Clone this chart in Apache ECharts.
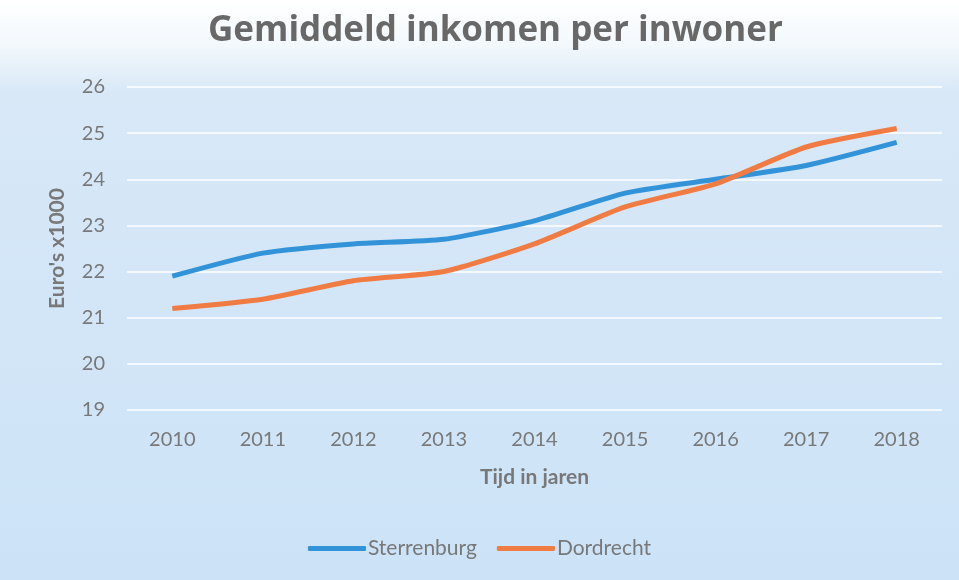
<!DOCTYPE html>
<html>
<head>
<meta charset="utf-8">
<script src="https://cdn.jsdelivr.net/npm/echarts@6/dist/echarts.min.js"></script>
<style>html,body{margin:0;padding:0;}#c{width:959px;height:580px;}</style>
</head>
<body>
<div id="c"></div>
<script>
var years = ['2010','2011','2012','2013','2014','2015','2016','2017','2018'];
var sterrenburg = [21.9, 22.4, 22.6, 22.7, 23.1, 23.7, 24.0, 24.3, 24.8];
var dordrecht = [21.2, 21.4, 21.8, 22.0, 22.6, 23.4, 23.9, 24.7, 25.1];
var seriesNames = ['Sterrenburg', 'Dordrecht'];

var chart = echarts.init(document.getElementById('c'));
var txt = '#787878';
var font = 'Lato, "Open Sans", sans-serif';
chart.setOption({
  backgroundColor: {
    type: 'linear', x: 0, y: 0, x2: 0, y2: 1,
    colorStops: [
      {offset: 0, color: '#ffffff'},
      {offset: 0.08, color: '#f2f8fc'},
      {offset: 0.16, color: '#d8e8f7'},
      {offset: 1, color: '#cce3f7'}
    ]
  },
  title: {
    text: 'Gemiddeld inkomen per inwoner',
    left: 203, top: 9,
    textStyle: {fontFamily: '"Open Sans", Lato, sans-serif', fontSize: 35, fontWeight: 'bold', color: '#686868'}
  },
  grid: {left: 127, right: 17, top: 87, bottom: 170},
  legend: {
    bottom: 16, left: 'center',
    icon: 'roundRect', itemWidth: 58, itemHeight: 5, itemGap: 20,
    textStyle: {fontFamily: font, fontSize: 21, color: txt, padding: [0, 0, 0, -3]},
    data: seriesNames
  },
  xAxis: {
    type: 'category', data: years, boundaryGap: true,
    name: 'Tijd in jaren', nameLocation: 'middle', nameGap: 57,
    nameTextStyle: {fontFamily: font, fontSize: 21, fontWeight: 'bold', color: txt},
    axisLine: {show: false}, axisTick: {show: false},
    axisLabel: {fontFamily: font, fontSize: 20, color: txt, margin: 20}
  },
  yAxis: {
    type: 'value', min: 19, max: 26, interval: 1,
    name: "Euro's x1000", nameLocation: 'middle', nameGap: 59,
    nameTextStyle: {fontFamily: font, fontSize: 21, fontWeight: 'bold', color: txt},
    axisLine: {show: false}, axisTick: {show: false},
    axisLabel: {fontFamily: font, fontSize: 20, color: txt, margin: 22},
    splitLine: {lineStyle: {color: 'rgba(255,255,255,0.75)', width: 2}}
  },
  series: [
    {name: seriesNames[0], type: 'line', data: sterrenburg, smooth: 0.2, symbol: 'none',
     itemStyle: {color: '#3393d8'}, lineStyle: {width: 5, color: '#3393d8'}},
    {name: seriesNames[1], type: 'line', data: dordrecht, smooth: 0.2, symbol: 'none',
     itemStyle: {color: '#f07c44'}, lineStyle: {width: 5, color: '#f07c44'}}
  ]
});
</script>
</body>
</html>
